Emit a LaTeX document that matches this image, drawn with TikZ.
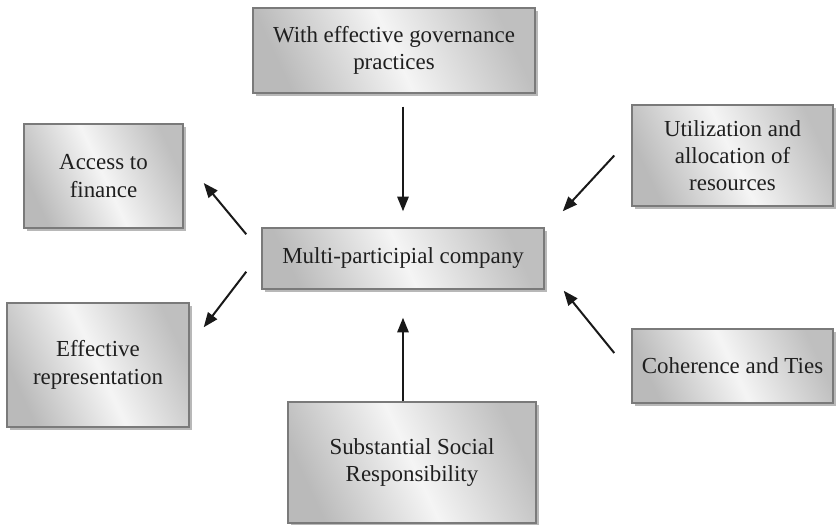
\documentclass[tikz,border=0pt]{standalone}
\usepackage{fontspec}
\setmainfont{Liberation Serif}
\usetikzlibrary{calc,shadows,arrows.meta}

\tikzset{
  box/.style={draw=black!52, line width=1.1pt, text=black!88, align=center,
    left color=black!27, right color=black!25, middle color=black!4, shading angle=115,
    drop shadow={shadow xshift=2.6pt, shadow yshift=-2.6pt, fill=black!28, opacity=1},
    font=\fontsize{17.2}{20.5}\selectfont, inner sep=2pt},
  arr/.style={line width=1.5pt, draw=black!90, -{Triangle[length=11pt,width=8.5pt]}}
}

\begin{document}
\begin{tikzpicture}[x=0.75pt,y=0.75pt,yscale=-1,xscale=1]
				\useasboundingbox (0,0) rectangle (836,525);
				
				% Boxes
				\node [box, minimum width=211.5pt, minimum height=63.75pt] (gov) at (394,50.5) {With effective governance\\practices};
				\node [box, minimum width=211.5pt, minimum height=45.75pt] (mpc) at (403,258.5) {Multi-participial company};
				\node [box, minimum width=119.25pt, minimum height=78pt] (fin) at (103.5,176) {Access to\\finance};
				\node [box, minimum width=136.5pt, minimum height=93pt] (rep) at (98,365) {Effective\\representation};
				\node [box, minimum width=150.75pt, minimum height=75.75pt] (res) at (732.5,155.5) {Utilization and\\allocation of\\resources};
				\node [box, minimum width=150.75pt, minimum height=55.5pt] (coh) at (732.5,366) {Coherence and Ties};
				\node [box, minimum width=186pt, minimum height=90.75pt] (ssr) at (412,462.5) {Substantial Social\\Responsibility};
				
				%Straight Lines
				\draw [arr] ($(gov.south -| mpc.north)+(0,13)$) -- ($(mpc.north)+(0,-16)$);
				\draw [arr] (ssr.north -| mpc.south) -- ($(mpc.south)+(0,28)$);
				\draw [arr] ($(mpc.north west)+(-15,7)$) -- ($(fin.east)+(20,7)$);
				\draw [arr] ($(mpc.south west)+(-15,-18)$) -- ($(rep.north east)+(14,25)$);
				\draw [arr] ($(res.west)+(-17,0)$) -- ($(mpc.north east)+(18,-16)$);
				\draw [arr] ($(coh.west)+(-17,-13)$) -- ($(mpc.south east)+(19,1)$);
				
			\end{tikzpicture}
\end{document}
